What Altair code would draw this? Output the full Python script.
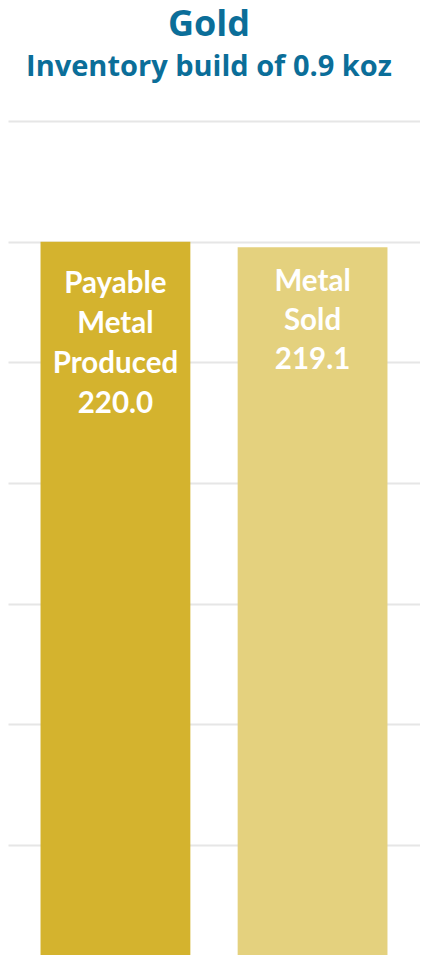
import altair as alt
import pandas as pd

categories = ["Payable Metal Produced", "Metal Sold"]
values = [220.0, 219.1]
label_lines = ["Payable\nMetal\nProduced\n220.0", "Metal\nSold\n219.1"]
bar_colors = ["#D4B32E", "#E4D17E"]
grid_values = [100, 120, 140, 160, 180, 200, 220, 240]
title_text = "Gold"
subtitle_text = "Inventory build of 0.9 koz"

df = pd.DataFrame({
    "category": categories,
    "value": values,
    "label": label_lines,
    "color": bar_colors,
})

x_enc = alt.X("category:N", sort=categories, axis=None,
              scale=alt.Scale(paddingInner=0.24, paddingOuter=0.165))
y_scale = alt.Scale(domain=[101.8, 240], nice=False, zero=False)

base = alt.Chart(df)

bars = base.mark_bar(clip=True).encode(
    x=x_enc,
    y=alt.Y("value:Q", scale=y_scale,
            axis=alt.Axis(values=grid_values, labels=False, ticks=False,
                          domain=False, grid=True, gridColor="#E6E6E6",
                          gridWidth=2, title=None)),
    color=alt.Color("color:N", scale=None),
)

text_style = dict(baseline="top", align="center", color="white", font="Lato",
                  fontWeight="bold", fontSize=29.5, lineBreak="\n")

label1 = base.transform_filter(alt.datum.category == categories[0]).mark_text(
    dy=28, lineHeight=40, **text_style
).encode(x=x_enc, y=alt.Y("value:Q", scale=y_scale), text="label:N")
label2 = base.transform_filter(alt.datum.category == categories[1]).mark_text(
    dy=21, lineHeight=39, **text_style
).encode(x=x_enc, y=alt.Y("value:Q", scale=y_scale), text="label:N")

chart = alt.layer(bars, label1, label2).properties(
    width=412,
    height=834,
    autosize=alt.AutoSizeParams(type="none"),
    padding={"top": 113, "left": 0, "right": 0, "bottom": 0},
    title=alt.TitleParams(
        text=title_text, subtitle=subtitle_text,
        font="Open Sans", fontSize=36, fontWeight="bold", color="#0B6E99",
        subtitleFont="Open Sans", subtitleFontSize=29, subtitleFontWeight="bold",
        subtitleColor="#0B6E99", anchor="middle", offset=38, subtitlePadding=9, dx=-5,
    ),
).configure_view(stroke=None)

chart.save("out.html", embed_options={"renderer": "svg", "actions": False})
